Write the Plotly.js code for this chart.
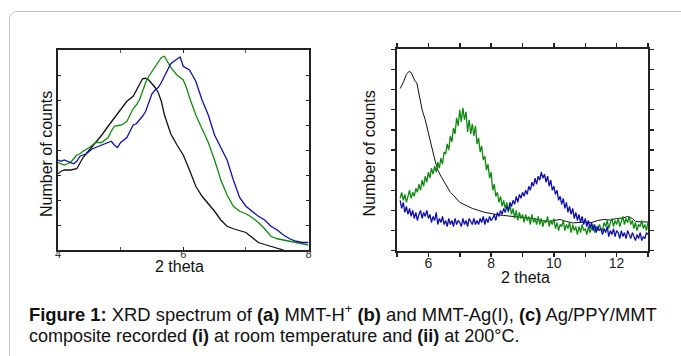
<!DOCTYPE html>
<html>
<head>
<meta charset="utf-8">
<script src="https://cdn.plot.ly/plotly-3.0.1.min.js"></script>
<style>
html,body{margin:0;padding:0;background:#fff;}
#wrap{position:relative;width:681px;height:356px;overflow:hidden;}
#frame{position:absolute;left:9px;top:11px;width:720px;height:400px;border:1.5px solid #c4c4c4;border-radius:8px;box-sizing:border-box;}
#chart{position:absolute;left:0;top:0;width:681px;height:356px;}
</style>
</head>
<body>
<div id="wrap"><div id="frame"></div><div id="chart"></div></div>
<script>
// ---- Panel (i): room temperature ----
const thetaA_black = [4.00,4.05,4.10,4.20,4.30,4.35,4.40,4.50,4.60,4.70,4.80,4.90,5.00,5.10,5.20,5.25,5.30,5.35,5.40,5.45,5.50,5.55,5.60,5.65,5.70,5.75,5.80,5.90,6.00,6.10,6.20,6.30,6.40,6.50,6.60,6.70,6.80,6.90,7.00,7.10,7.20,7.30,7.40,7.50,7.60];
const countsA_black = [3.05,3.15,3.2,3.2,3.25,3.45,3.7,4.0,4.3,4.6,4.95,5.3,5.65,5.95,6.15,6.4,6.65,6.85,6.87,6.8,6.65,6.5,6.3,5.95,5.4,5.0,4.65,4.2,3.8,3.2,2.55,2.15,1.85,1.55,1.2,0.95,0.85,0.78,0.7,0.5,0.3,0.22,0.15,0.06,0.0];

const thetaA_green = [4.00,4.05,4.10,4.15,4.20,4.25,4.30,4.35,4.40,4.50,4.55,4.60,4.70,4.75,4.80,4.85,4.90,5.00,5.05,5.10,5.15,5.20,5.25,5.30,5.35,5.40,5.45,5.50,5.55,5.60,5.65,5.70,5.75,5.80,5.85,5.90,6.00,6.05,6.10,6.15,6.20,6.30,6.40,6.50,6.60,6.70,6.80,6.90,7.00,7.10,7.20,7.30,7.40,7.50,7.60,7.70,7.80,7.90,8.00];
const countsA_green = [3.5,3.45,3.4,3.45,3.5,3.65,3.8,3.85,3.95,4.1,4.2,4.3,4.3,4.4,4.5,4.75,4.95,5.0,5.05,5.15,5.4,5.65,5.8,6.0,6.35,6.7,6.95,7.15,7.35,7.55,7.7,7.75,7.5,7.3,7.15,7.0,6.8,6.5,6.1,5.75,5.4,4.85,4.3,3.6,2.8,2.2,1.75,1.55,1.45,1.3,1.1,0.85,0.55,0.45,0.4,0.35,0.3,0.25,0.2];

const thetaA_blue = [4.00,4.05,4.10,4.15,4.20,4.25,4.30,4.35,4.40,4.45,4.50,4.55,4.60,4.65,4.70,4.75,4.80,4.85,4.90,4.95,5.00,5.05,5.10,5.15,5.20,5.25,5.30,5.35,5.40,5.45,5.50,5.55,5.60,5.65,5.70,5.75,5.80,5.85,5.90,5.95,6.00,6.10,6.20,6.25,6.30,6.40,6.50,6.60,6.70,6.80,6.90,7.00,7.10,7.20,7.30,7.40,7.50,7.60,7.70,7.80,7.90,8.00];
const countsA_blue = [3.6,3.55,3.6,3.55,3.5,3.45,3.55,3.75,3.8,3.85,3.95,4.05,4.1,4.15,4.2,4.25,4.3,4.35,4.2,4.1,4.3,4.4,4.5,4.75,5.0,5.05,5.2,5.35,5.55,5.95,6.25,6.4,6.5,6.7,6.95,7.2,7.45,7.55,7.65,7.72,7.35,7.2,6.75,6.35,6.0,5.4,4.6,4.1,3.6,2.8,2.1,1.75,1.55,1.35,1.2,0.95,0.8,0.6,0.45,0.35,0.3,0.3];

// ---- Panel (ii): 200 °C ----
const thetaB_black = [5.10,5.20,5.30,5.38,5.45,5.52,5.58,5.63,5.70,5.80,5.90,6.00,6.10,6.20,6.30,6.40,6.50,6.60,6.70,6.80,6.90,7.00,7.20,7.40,7.60,7.80,8.00,8.20,8.40,8.60,8.80,9.00,9.20,9.40,9.60,9.80,10.00,10.20,10.40,10.60,10.80,11.00,11.20,11.40,11.60,11.80,12.00,12.20,12.35,12.50,12.60,12.80,13.00];
const countsB_black = [8.05,8.35,8.75,8.9,8.85,8.6,8.4,8.35,7.8,7.0,6.5,5.9,5.2,4.55,4.0,3.7,3.45,3.15,2.9,2.75,2.55,2.4,2.25,2.1,2.0,1.9,1.85,1.78,1.75,1.72,1.7,1.65,1.62,1.58,1.5,1.45,1.5,1.55,1.45,1.38,1.4,1.42,1.4,1.5,1.55,1.52,1.6,1.62,1.7,1.6,1.45,1.45,1.42];

// instrument scan: 5.10 to 13.00 in 0.05 steps
const scanStart = 5.10, scanStep = 0.05;
const countsB_green = [
 2.6,2.9,2.5,2.8,2.4,2.7,3.0,2.6,2.9,
 2.7,3.1,2.9,3.3,3.0,3.5,3.2,3.7,3.4,3.9,
 3.6,4.1,3.8,4.2,3.9,4.4,4.1,4.6,4.3,4.9,
 4.8,5.3,5.0,5.7,5.4,6.1,5.8,6.6,6.2,7.0,
 6.4,7.1,6.5,6.9,5.9,6.5,5.8,6.3,5.7,6.2,
 5.3,5.6,4.9,5.2,4.5,4.7,4.0,4.3,3.6,3.9,
 3.0,3.3,2.7,2.9,2.4,2.7,2.2,2.5,2.1,2.4,
 1.9,2.3,1.8,2.1,1.6,2.0,1.5,1.9,1.6,1.8,
 1.4,1.8,1.5,1.7,1.3,1.8,1.4,1.6,1.3,1.7,
 1.3,1.6,1.2,1.5,1.4,1.7,1.2,1.5,1.3,1.6,
 1.1,1.4,1.0,1.3,1.2,1.5,1.0,1.3,1.1,1.4,
 0.9,1.3,1.0,1.2,0.8,1.2,0.9,1.3,1.0,1.1,
 0.8,1.2,0.9,1.1,1.3,0.9,1.2,1.0,1.3,1.1,
 1.0,1.4,1.2,1.5,1.1,1.4,1.6,1.2,1.5,1.3,
 1.6,1.2,1.5,1.7,1.3,1.6,1.4,1.7,1.3,1.5,
 1.1,1.4,1.0,1.3,1.2,1.5,1.1,1.3,1.0,1.4];
const countsB_blue = [
 2.5,2.1,2.4,1.9,2.2,1.8,2.1,1.7,2.0,
 1.6,1.9,1.5,1.8,2.0,1.6,1.9,1.7,2.0,1.6,
 1.8,1.4,1.7,1.5,1.9,1.3,1.6,1.4,1.7,1.3,
 1.5,1.2,1.6,1.3,1.5,1.2,1.6,1.3,1.5,1.4,
 1.2,1.6,1.3,1.5,1.2,1.6,1.4,1.3,1.6,1.3,
 1.5,1.3,1.6,1.4,1.7,1.3,1.6,1.4,1.7,1.5,
 1.6,1.8,1.5,1.9,1.7,2.0,1.8,2.1,1.9,2.2,
 2.0,2.4,2.2,2.5,2.3,2.7,2.4,2.8,2.6,2.9,
 2.7,3.0,2.8,3.2,3.0,3.4,3.2,3.6,3.3,3.7,
 3.5,3.9,3.6,3.8,3.4,3.7,3.2,3.5,3.0,3.2,
 2.8,3.0,2.5,2.7,2.3,2.6,2.1,2.4,1.9,2.2,
 1.8,2.1,1.6,1.9,1.5,1.8,1.4,1.7,1.3,1.6,
 1.2,1.5,1.1,1.4,1.0,1.3,0.9,1.2,1.0,1.1,
 0.8,1.1,0.9,1.2,0.7,1.0,0.8,1.1,0.7,1.0,
 0.9,0.6,1.0,0.7,0.9,0.6,1.0,0.8,0.6,0.9,
 0.7,0.5,0.8,0.6,0.9,0.5,0.7,0.6,0.9,0.8];
const thetaB_scan = countsB_green.map((_, i) => +(scanStart + i * scanStep).toFixed(2));

const tickLabelsA = ['4','6','8'];
const tickValsA = [4,6,8];
const xTitle = '2 theta';
const yTitle = 'Number of counts';
const captionLine1 = '<b>Figure 1:</b> XRD spectrum of <b>(a)</b> MMT-H<sup>+</sup> <b>(b)</b> and MMT-Ag(I), <b>(c)</b> Ag/PPY/MMT';
const captionLine2 = 'composite recorded <b>(i)</b> at room temperature and <b>(ii)</b> at 200°C.';

const W = 681, H = 356;
const px = v => v / W, py = v => 1 - v / H;
const FONT = 'Liberation Sans, Arial, sans-serif';
const cBlack = '#111111', cGreen = '#128a12', cBlue = '#1010a8';

const traces = [
  {x: thetaA_black, y: countsA_black, xaxis:'x', yaxis:'y', mode:'lines', line:{color:cBlack, width:1.3}},
  {x: thetaA_green, y: countsA_green, xaxis:'x', yaxis:'y', mode:'lines', line:{color:cGreen, width:1.3}},
  {x: thetaA_blue, y: countsA_blue, xaxis:'x', yaxis:'y', mode:'lines', line:{color:cBlue, width:1.3}},
  {x: thetaB_black, y: countsB_black, xaxis:'x2', yaxis:'y2', mode:'lines', line:{color:cBlack, width:1}},
  {x: thetaB_scan, y: countsB_green, xaxis:'x2', yaxis:'y2', mode:'lines', line:{color:cGreen, width:1.3}},
  {x: thetaB_scan, y: countsB_blue, xaxis:'x2', yaxis:'y2', mode:'lines', line:{color:cBlue, width:1.3}}
];

const axLine = {showline:true, linecolor:'#222', linewidth:2, mirror:'ticks', showgrid:false, zeroline:false, tickcolor:'#222'};

const layout = {
  width: W, height: H,
  margin:{l:0,r:0,t:0,b:0},
  paper_bgcolor:'rgba(0,0,0,0)', plot_bgcolor:'rgba(0,0,0,0)',
  showlegend:false,
  font:{family:FONT, color:'#222'},
  xaxis: Object.assign({}, axLine, {domain:[px(58), px(308.5)], anchor:'y', range:[4,8], tickvals:tickValsA, ticktext:tickLabelsA,
    ticks:'inside', ticklen:3, tickwidth:1, tickfont:{size:11, color:'#333'}, ticklabelstandoff:-7,
    minor:{tickvals:[5,7], ticks:'inside', ticklen:3, tickcolor:'#555', tickwidth:1}}),
  yaxis: Object.assign({}, axLine, {domain:[py(250), py(50)], anchor:'x', range:[0,8], dtick:1, ticks:'inside', ticklen:3, tickwidth:1, showticklabels:false}),
  xaxis2: Object.assign({}, axLine, {domain:[px(397), px(648)], anchor:'y2', range:[5,13], dtick:2, tick0:0,
    ticks:'outside', ticklen:4, tickwidth:1.5, tickfont:{size:14, color:'#222'}, ticklabelstandoff:-6,
    minor:{dtick:1, tick0:0, ticks:'outside', ticklen:4, tickwidth:1.5, tickcolor:'#222'}}),
  yaxis2: Object.assign({}, axLine, {domain:[py(250.7), py(49.3)], anchor:'x2', range:[0,10], dtick:1, ticks:'outside', ticklen:4, tickwidth:1.5, showticklabels:false}),
  annotations:[
    {xref:'paper', yref:'paper', x:px(46), y:py(154), text:yTitle, textangle:-90, showarrow:false, xanchor:'center', yanchor:'middle', font:{size:16, color:'#111', family:FONT}},
    {xref:'paper', yref:'paper', x:px(179), y:py(266), text:xTitle, showarrow:false, xanchor:'center', yanchor:'middle', font:{size:16, color:'#111', family:FONT}},
    {xref:'paper', yref:'paper', x:px(368.5), y:py(154), text:yTitle, textangle:-90, showarrow:false, xanchor:'center', yanchor:'middle', font:{size:16, color:'#111', family:FONT}},
    {xref:'paper', yref:'paper', x:px(525), y:py(277), text:xTitle, showarrow:false, xanchor:'center', yanchor:'middle', font:{size:16, color:'#111', family:FONT}},
    {xref:'paper', yref:'paper', x:px(27), y:py(313), text:captionLine1, showarrow:false, xanchor:'left', yanchor:'middle', align:'left', font:{size:18.4, color:'#111', family:FONT}},
    {xref:'paper', yref:'paper', x:px(27), y:py(336), text:captionLine2, showarrow:false, xanchor:'left', yanchor:'middle', align:'left', font:{size:18, color:'#111', family:FONT}}
  ]
};

Plotly.newPlot('chart', traces, layout, {staticPlot:true, displayModeBar:false});
</script>
</body>
</html>
